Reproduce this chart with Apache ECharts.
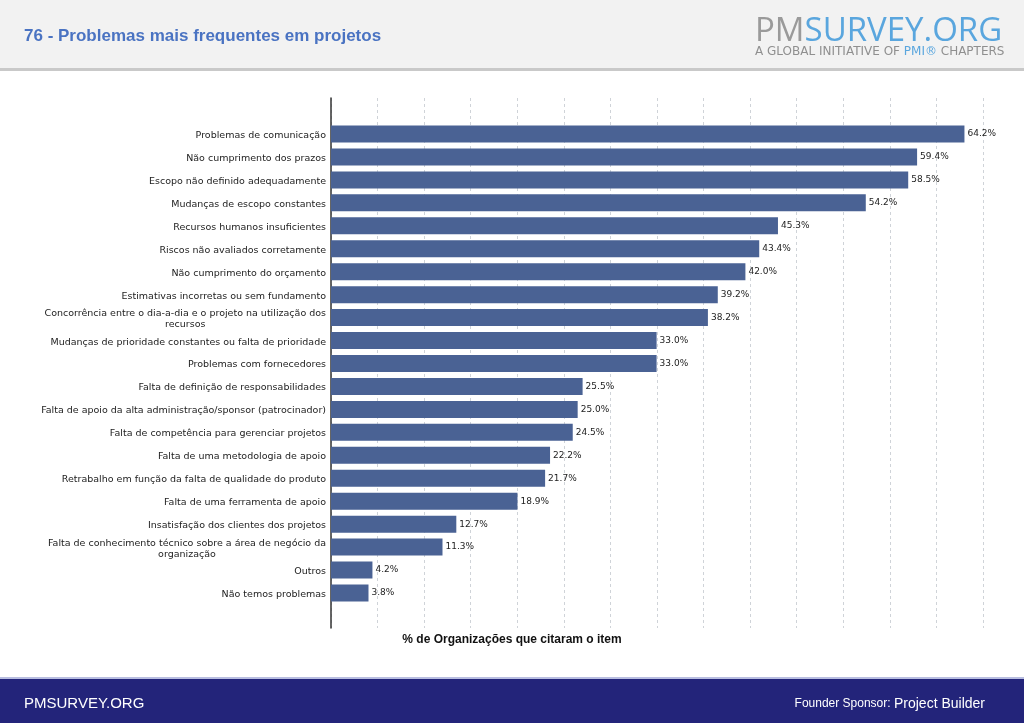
<!DOCTYPE html>
<html>
<head>
<meta charset="utf-8">
<script src="https://cdn.jsdelivr.net/npm/echarts@6/dist/echarts.min.js"></script>
<style>html,body{margin:0;padding:0;background:#fff}#c{width:1024px;height:723px}</style>
</head>
<body>
<div id="c"></div>
<script>
const categories = [
  'Problemas de comunicação',
  'Não cumprimento dos prazos',
  'Escopo não definido adequadamente',
  'Mudanças de escopo constantes',
  'Recursos humanos insuficientes',
  'Riscos não avaliados corretamente',
  'Não cumprimento do orçamento',
  'Estimativas incorretas ou sem fundamento',
  'Concorrência entre o dia-a-dia e o projeto na utilização dos\nrecursos',
  'Mudanças de prioridade constantes ou falta de prioridade',
  'Problemas com fornecedores',
  'Falta de definição de responsabilidades',
  'Falta de apoio da alta administração/sponsor (patrocinador)',
  'Falta de competência para gerenciar projetos',
  'Falta de uma metodologia de apoio',
  'Retrabalho em função da falta de qualidade do produto',
  'Falta de uma ferramenta de apoio',
  'Insatisfação dos clientes dos projetos',
  'Falta de conhecimento técnico sobre a área de negócio da\norganização',
  'Outros',
  'Não temos problemas'
];
const values = [64.2, 59.4, 58.5, 54.2, 45.3, 43.4, 42.0, 39.2, 38.2, 33.0, 33.0, 25.5, 25.0, 24.5, 22.2, 21.7, 18.9, 12.7, 11.3, 4.2, 3.8];
const titleText = '76 - Problemas mais frequentes em projetos';
const axisName = '% de Organizações que citaram o item';

const gridStep = 4.72;
const gridMax = gridStep * 14;

const chart = echarts.init(document.getElementById('c'), null, {renderer: 'canvas'});
chart.setOption({
  backgroundColor: '#ffffff',
  animation: false,
  graphic: [
    {type: 'rect', shape: {x: 0, y: 0, width: 1024, height: 68}, style: {fill: '#f2f2f2'}, z: 0},
    {type: 'rect', shape: {x: 0, y: 68, width: 1024, height: 3}, style: {fill: '#c9c9c9'}, z: 0},
    {type: 'text', left: 24, top: 28, style: {text: titleText, fill: '#4a73c2', font: 'bold 17px "Liberation Sans", Arial, sans-serif'}},
    {type: 'text', left: 755, top: 15, style: {
      text: '{a|PM}{b|SURVEY.ORG}',
      rich: {
        a: {fill: '#9a9a9a', font: '33px "Open Sans", sans-serif'},
        b: {fill: '#5aa6de', font: '33px "Open Sans", sans-serif'}
      }
    }},
    {type: 'text', left: 755, top: 46, style: {
      text: '{a|A GLOBAL INITIATIVE OF }{b|PMI®}{a| CHAPTERS}',
      rich: {
        a: {fill: '#8f8f8f', font: '12px "DejaVu Sans", sans-serif'},
        b: {fill: '#5aa6de', font: '12px "DejaVu Sans", sans-serif'}
      }
    }},
    {type: 'rect', shape: {x: 0, y: 677, width: 1024, height: 2}, style: {fill: '#b8bde0'}, z: 0},
    {type: 'rect', shape: {x: 0, y: 679, width: 1024, height: 44}, style: {fill: '#23247a'}, z: 0},
    {type: 'text', left: 24, top: 696, style: {text: 'PMSURVEY.ORG', fill: '#ffffff', font: '15px "Liberation Sans", Arial, sans-serif'}},
    {type: 'text', right: 39, top: 697, style: {
      text: '{a|Founder Sponsor: }{b|Project Builder}',
      rich: {
        a: {fill: '#ffffff', font: '12px "Liberation Sans", Arial, sans-serif'},
        b: {fill: '#ffffff', font: '14px "Liberation Sans", Arial, sans-serif'}
      }
    }},
    {type: 'text', left: 'center', top: 634, style: {text: axisName, fill: '#111111', font: 'bold 12px "Liberation Sans", Arial, sans-serif'}}
  ],
  grid: [
    {left: 331, right: 41, top: 98, bottom: 95},
    {left: 331, right: 41, top: 122.5, height: 482}
  ],
  xAxis: [
    {gridIndex: 0, type: 'value', min: 0, max: gridMax, interval: gridStep,
      axisLabel: {show: false}, axisTick: {show: false}, axisLine: {show: false},
      splitLine: {show: true, lineStyle: {color: '#cfd3d8', type: [3, 3], width: 1}}},
    {gridIndex: 1, type: 'value', min: 0, max: gridMax,
      axisLabel: {show: false}, axisTick: {show: false}, axisLine: {show: false}, splitLine: {show: false}}
  ],
  yAxis: [
    {gridIndex: 0, type: 'value', min: 0, max: 1,
      axisLabel: {show: false}, axisTick: {show: false}, splitLine: {show: false},
      axisLine: {show: true, lineStyle: {color: '#333333', width: 1.5}}},
    {gridIndex: 1, type: 'category', inverse: true, data: categories,
      axisLine: {show: false}, axisTick: {show: false}, splitLine: {show: false},
      axisLabel: {
        margin: 5, color: '#222222', fontSize: 9.5, fontFamily: '"DejaVu Sans", sans-serif', align: 'right', lineHeight: 11,
        padding: [3, 0, 0, 0],
        formatter: function (v) { return v.split('\n').map(function (s) { return '{c|' + s + '}'; }).join('\n'); },
        rich: {c: {align: 'center', fontSize: 9.5, fontFamily: '"DejaVu Sans", sans-serif', color: '#222222', lineHeight: 11}}
      }}
  ],
  series: [{
    type: 'bar', xAxisIndex: 1, yAxisIndex: 1, data: values, barWidth: 17,
    itemStyle: {color: '#4a6294'},
    label: {show: true, position: 'right', distance: 3, color: '#222222', fontSize: 9, fontFamily: '"DejaVu Sans", sans-serif',
      padding: [5, 0, 0, 0],
      formatter: function (p) { return p.value.toFixed(1) + '%'; }}
  }]
});
</script>
</body>
</html>
